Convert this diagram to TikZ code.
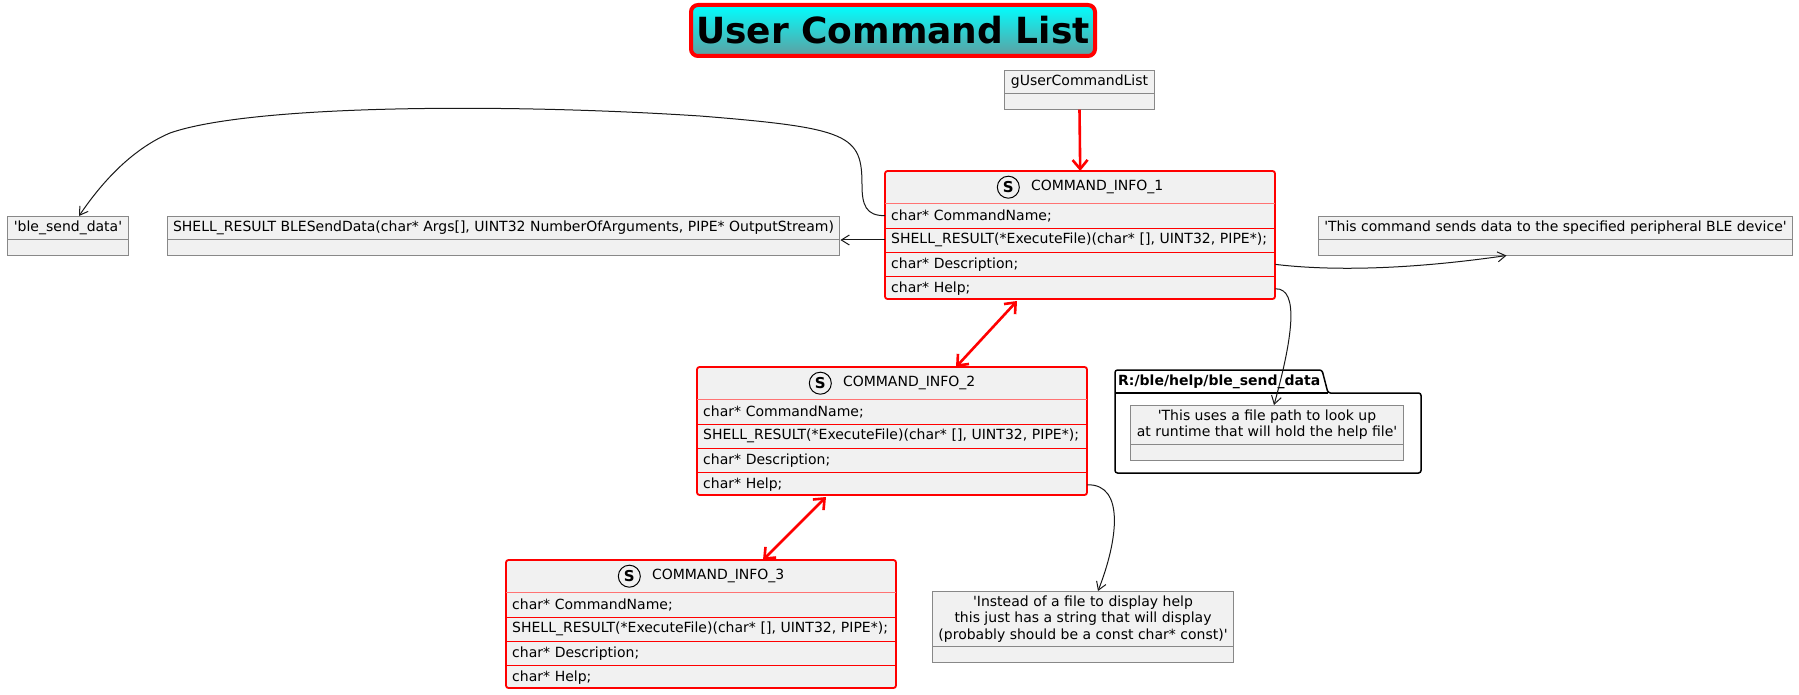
\documentclass[tikz,border=0pt]{standalone}
\usepackage{fontspec}
\setmainfont{DejaVu Sans}
\usetikzlibrary{arrows.meta,positioning,shapes.multipart}
\definecolor{umlbg}{HTML}{F1F1F1}
\definecolor{umlgray}{HTML}{888888}
\definecolor{cadet}{HTML}{5F9EA0}
\newcommand\sq{\textquotesingle}

\begin{document}
\begin{tikzpicture}[x=1pt, y=-1pt, every node/.style={font=\fontsize{14}{16.3}\selectfont}, >={Straight Barb[length=8pt,width=10pt]},
	redhead/.tip={Straight Barb[length=9pt,width=15pt]},
	obj/.style={rectangle split, rectangle split parts=2, draw=umlgray, line width=1pt, fill=umlbg, inner xsep=6pt, inner ysep=4pt, align=center, rectangle split empty part height=7pt, anchor=north},
	hdr/.style={anchor=north west, minimum width=390pt, minimum height=32pt, inner sep=0pt},
	row/.style={minimum width=390pt, minimum height=24pt, text width=378pt, inner xsep=6pt, inner ysep=0pt, align=left},
	cls/.style={draw=red, fill=umlbg, line width=1.8pt, rounded corners=2.5pt},
	link/.style={->, black!90, line width=1pt},
	chain/.style={red, line width=2.6pt}]
	\useasboundingbox (0,0) rectangle (1799,695);
	\node[draw=red, line width=4pt, rounded corners=7pt, top color=cyan, bottom color=cadet, minimum width=404pt, minimum height=51pt, inner sep=0pt, font=\fontsize{36}{40}\selectfont\bfseries] (title) at (893,30.5) {User Command List};
	\node[obj] (gu) at (1079.5,70) {gUserCommandList};
	\foreach \i/\x/\y in {1/885/171, 2/697/367, 3/506/560} {
		\filldraw[cls] (\x,\y) rectangle ++(390,128);
		\node[hdr] (c\i) at (\x,\y) {};
		\node[inner sep=0pt] (t\i) at ([xshift=17pt]c\i.center) {COMMAND\_INFO\_\i};
		\node[draw, circle, line width=1pt, minimum size=22pt, inner sep=0pt, font=\fontsize{15}{15}\selectfont\bfseries, left=11pt of t\i] (s\i) {S};
		\node[row, below=0pt of c\i] (n\i) {char* CommandName;};
		\node[row, below=0pt of n\i] (e\i) {SHELL\_RESULT(*ExecuteFile)(char* [], UINT32, PIPE*);};
		\node[row, below=0pt of e\i] (d\i) {char* Description;};
		\node[row, below=0pt of d\i] (h\i) {char* Help;};
		\draw[red!55] (n\i.north west) -- (n\i.north east);
		\draw[red] (e\i.north west) -- (e\i.north east) (d\i.north west) -- (d\i.north east) (h\i.north west) -- (h\i.north east);
	}
	\node[obj] (bsd) at (68,216) {\sq ble\_send\_data\sq};
	\node[obj] (fn) at (503.5,216) {SHELL\_RESULT BLESendData(char* Args[], UINT32 NumberOfArguments, PIPE* OutputStream)};
	\node[obj] (desc) at (1555.5,216) {\sq This command sends data to the specified peripheral BLE device\sq};
	\draw[line width=1.5pt, rounded corners=2.5pt] (1115,393) -- (1115,370) -- (1322,370) -- (1328,393) -- (1421,393) -- (1421,473) -- (1115,473) -- cycle;
	\draw[line width=1.5pt] (1115,393) -- (1328,393);
	\node[anchor=west, inner sep=0pt, font=\fontsize{14}{16}\selectfont\bfseries] (pkg) at (1118,381.5) {R:/ble/help/ble\_send\_data};
	\node[obj] (help) at (1267,405) {\sq This uses a file path to look up\\at runtime that will hold the help file\sq};
	\node[obj] (note) at (1083,591) {\sq Instead of a file to display help\\this just has a string that will display\\(probably should be a const char* const)\sq};
	\draw[chain, -redhead] (gu.south) -- (c1.north);
	\draw[chain, redhead-redhead] ([xshift=132pt]h1.south west) -- ([xshift=259pt]c2.north west);
	\draw[chain, redhead-redhead] ([xshift=129pt]h2.south west) -- ([xshift=257pt]c3.north west);
	\draw[link] (n1.west) .. controls (866,216) and (862,205) .. (862,185) .. controls (862,135) and (850,128) .. (700,116) .. controls (500,103) and (250,105) .. (170,133) .. controls (130,150) and (100,185) .. ([xshift=11pt]bsd.north);
	\draw[link] (e1.west) -- (e1.west -| fn.east);
	\draw[link] (d1.east) .. controls (1340,272) and (1420,268) .. ([xshift=-49pt]desc.south);
	\draw[link] (h1.east) .. controls (1300,288) and (1292,340) .. ([xshift=7pt]help.north);
	\draw[link] (h2.east) .. controls (1125,484) and (1118,540) .. ([xshift=15pt]note.north);
\end{tikzpicture}
\end{document}
